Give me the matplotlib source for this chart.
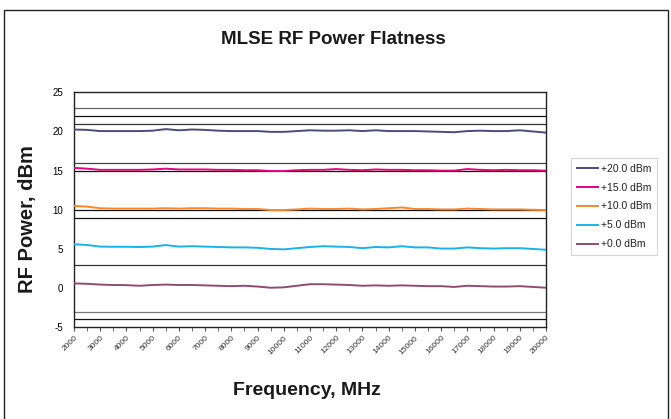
import numpy as np
import matplotlib.pyplot as plt
from matplotlib.patches import Rectangle

# frequency points, MHz (every 500 MHz)
freq = list(range(2000, 20001, 500))

p20 = [20.25, 20.2, 20.05, 20.05, 20.05, 20.05, 20.1, 20.3, 20.15, 20.25, 20.2, 20.1,
       20.05, 20.05, 20.05, 19.95, 19.95, 20.05, 20.15, 20.1, 20.1, 20.15, 20.05, 20.15,
       20.05, 20.05, 20.05, 20.0, 19.95, 19.9, 20.05, 20.1, 20.05, 20.05, 20.15, 20.0, 19.85]
p15 = [15.35, 15.25, 15.1, 15.1, 15.1, 15.1, 15.15, 15.25, 15.15, 15.15, 15.15, 15.1,
       15.1, 15.05, 15.05, 14.95, 14.95, 15.05, 15.1, 15.1, 15.2, 15.1, 15.05, 15.15,
       15.1, 15.1, 15.05, 15.05, 15.0, 15.0, 15.2, 15.1, 15.05, 15.1, 15.05, 15.05, 15.0]
p10 = [10.5, 10.4, 10.2, 10.15, 10.15, 10.15, 10.15, 10.2, 10.15, 10.2, 10.2, 10.15,
       10.15, 10.1, 10.1, 9.97, 9.97, 10.05, 10.15, 10.1, 10.1, 10.15, 10.05, 10.1,
       10.2, 10.3, 10.1, 10.1, 10.05, 10.05, 10.15, 10.1, 10.05, 10.05, 10.05, 10.0, 9.97]
p5 = [5.6, 5.5, 5.3, 5.28, 5.28, 5.25, 5.3, 5.5, 5.3, 5.35, 5.3, 5.25,
      5.2, 5.2, 5.15, 5.0, 4.95, 5.1, 5.25, 5.35, 5.3, 5.25, 5.1, 5.25,
      5.2, 5.35, 5.2, 5.2, 5.05, 5.05, 5.2, 5.1, 5.05, 5.1, 5.1, 5.0, 4.9]
p0 = [0.6, 0.55, 0.45, 0.4, 0.38, 0.3, 0.4, 0.45, 0.4, 0.4, 0.35, 0.3,
      0.25, 0.3, 0.2, 0.05, 0.1, 0.3, 0.5, 0.5, 0.45, 0.4, 0.3, 0.35,
      0.3, 0.35, 0.3, 0.25, 0.25, 0.15, 0.3, 0.25, 0.2, 0.2, 0.25, 0.15, 0.05]

series = [p20, p15, p10, p5, p0]
labels = ['+20.0 dBm', '+15.0 dBm', '+10.0 dBm', '+5.0 dBm', '+0.0 dBm']
colors = ['#4E4B7C', '#E5007E', '#F7882F', '#1CB2E8', '#8E4D6E']

# horizontal reference lines
ref_levels = [23, 22, 21, 16, 15, 10, 9, 3, -3, -4]
ref_colors = ['#666666', '#111111', '#333333', '#444444', '#111111', '#111111',
              '#111111', '#333333', '#777777', '#111111']

plt.rcParams['font.family'] = ['Liberation Sans', 'DejaVu Sans']
plt.rcParams['axes.unicode_minus'] = False

fig = plt.figure(figsize=(6.71, 4.19), dpi=100)
ax = fig.add_axes([0.1103, 0.2189, 0.7034, 0.5608])

# outer chart frame
fig.patches.append(Rectangle((4 / 671, -0.1), 664 / 671, 1.1 - 10 / 419,
                             transform=fig.transFigure, fill=False,
                             edgecolor='#222222', linewidth=1.0))

for lvl, c in zip(ref_levels, ref_colors):
    ax.axhline(lvl, color=c, linewidth=0.9, zorder=1)

for vals, lab, col in zip(series, labels, colors):
    ax.plot(freq, vals, color=col, linewidth=1.4, label=lab, zorder=3)

ax.set_xlim(2000, 20000)
ax.set_ylim(-5, 25)
ax.set_yticks([-5, 0, 5, 10, 15, 20, 25])
ax.set_xticks(range(2000, 20001, 1000))
ax.set_xticks(range(2500, 20000, 1000), minor=True)
ax.tick_params(axis='y', length=0, labelsize=7, pad=8)
ax.tick_params(axis='x', which='both', length=3, labelsize=6, direction='out', pad=2,
               labelcolor='#333333', color='#555555')
plt.setp(ax.get_xticklabels(), rotation=45, ha='right', rotation_mode='anchor')
for s in ax.spines.values():
    s.set_color('#222222')
    s.set_linewidth(1.0)

fig.text(0.497, 1 - 39 / 419, 'MLSE RF Power Flatness', ha='center', va='center',
         fontsize=13.5, fontweight='bold', color='#1a1a1a')
fig.text(0.458, 1 - 390 / 419, 'Frequency, MHz', ha='center', va='center',
         fontsize=14, fontweight='bold', color='#1a1a1a')
fig.text(28 / 671, 1 - 219 / 419, 'RF Power, dBm', ha='center', va='center', rotation=90,
         fontsize=14.5, fontweight='bold', color='#1a1a1a')

leg = ax.legend(loc='upper left', bbox_to_anchor=(571 / 671, 1 - 158 / 419),
                bbox_transform=fig.transFigure, frameon=True, fancybox=False,
                fontsize=7.5, handlelength=2.0, handletextpad=0.3,
                labelspacing=0.85, borderpad=0.55, borderaxespad=0)
leg.get_frame().set_edgecolor('#cccccc')
leg.get_frame().set_linewidth(0.8)
for t in leg.get_texts():
    t.set_color('#222222')

plt.savefig('out.png', dpi=100)
